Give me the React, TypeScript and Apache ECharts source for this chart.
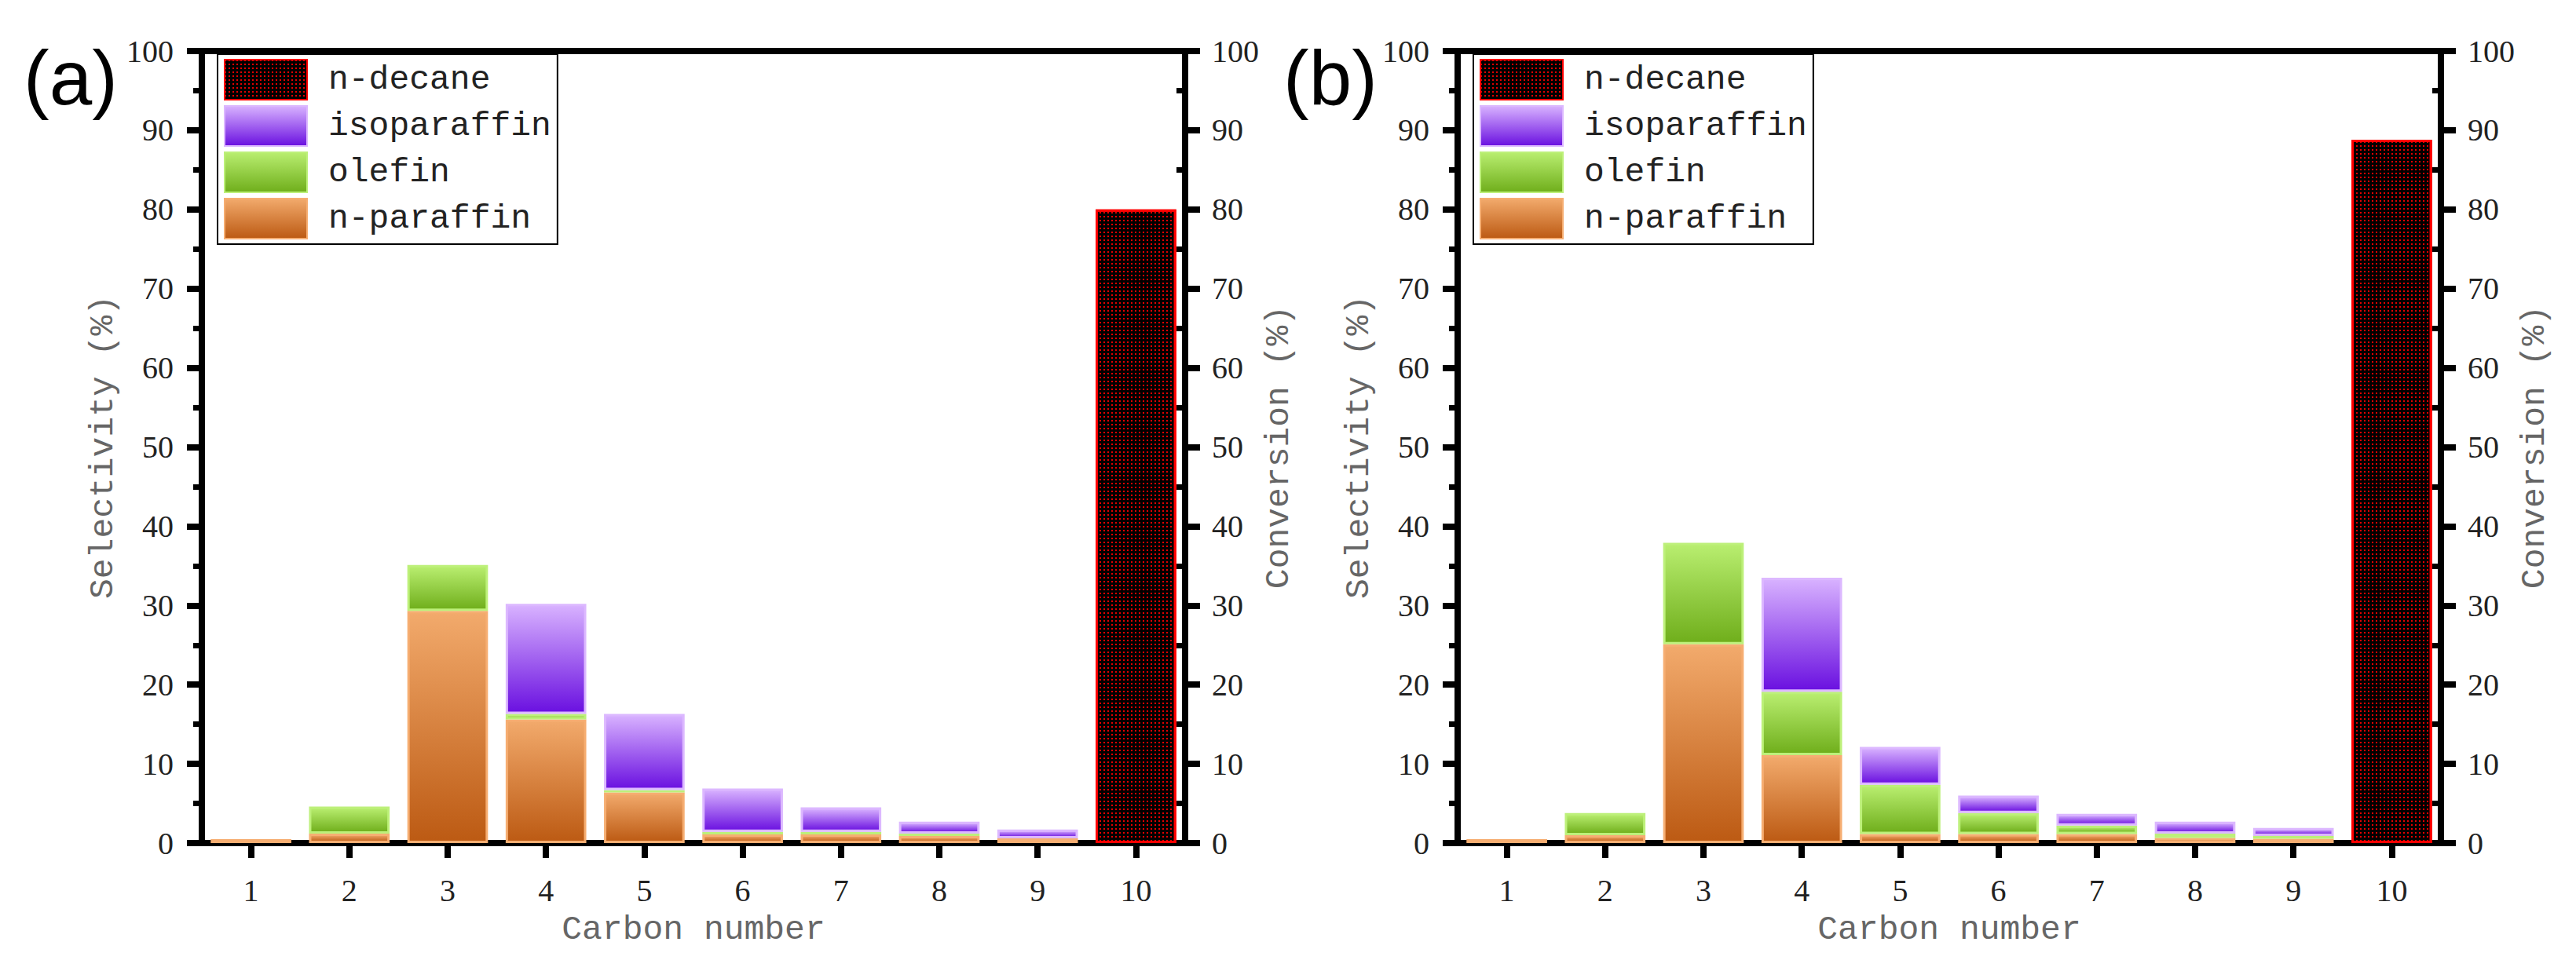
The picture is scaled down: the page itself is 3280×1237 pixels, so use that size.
import React, { useEffect, useRef } from "react";
import * as echarts from "echarts";

const categories = ["1", "2", "3", "4", "5", "6", "7", "8", "9", "10"];
const legendNames = ["n-decane", "isoparaffin", "olefin", "n-paraffin"];
const yTicksMax = 100;
const yInterval = 10;

// Panel (a)
const nParaffinA = [0.5, 1.2, 29.3, 15.6, 6.4, 1.1, 1.1, 0.9, 0.6, null];
const olefinA = [null, 3.4, 5.8, 0.7, 0.3, 0.3, 0.3, 0.3, null, null];
const isoparaffinA = [null, null, null, 13.9, 9.6, 5.5, 3.1, 1.5, 1.1, null];
const conversionA = [null, null, null, null, null, null, null, null, null, 80];

// Panel (b)
const nParaffinB = [0.5, 1.0, 25.1, 11.1, 1.15, 1.15, 1.15, 0.65, 0.55, null];
const olefinB = [null, 2.8, 12.8, 8.0, 6.2, 2.65, 1.05, 0.55, 0.35, null];
const isoparaffinB = [null, null, null, 14.4, 4.8, 2.2, 1.5, 1.5, 1.0, null];
const conversionB = [null, null, null, null, null, null, null, null, null, 88.8];

const panelLabels = ["(a)", "(b)"];

const SERIF = "'Liberation Serif', 'DejaVu Serif', serif";
const MONO = "'Liberation Mono', 'DejaVu Sans Mono', monospace";
const GRID_LEFT = [257, 1856];
const GRID_TOP = 65;
const GRID_W = 1252;
const GRID_H = 1009;

function grad(top: string, bottom: string) {
  return new echarts.graphic.LinearGradient(0, 0, 0, 1, [
    { offset: 0, color: top },
    { offset: 1, color: bottom },
  ]);
}

function buildOption() {
  const grids: any[] = [];
  const xAxes: any[] = [];
  const yAxes: any[] = [];
  const series: any[] = [];
  const legends: any[] = [];
  const graphics: any[] = [];

  const panels = [
    { nP: nParaffinA, ol: olefinA, iso: isoparaffinA, conv: conversionA },
    { nP: nParaffinB, ol: olefinB, iso: isoparaffinB, conv: conversionB },
  ];

  panels.forEach((pd, p) => {
    const left = GRID_LEFT[p];
    grids.push({ left, top: GRID_TOP, width: GRID_W, height: GRID_H, containLabel: false });

    const labelStyle = { fontFamily: SERIF, fontSize: 40, color: "#222" };
    const nameStyle = { fontFamily: MONO, fontSize: 43, color: "#666" };

    xAxes.push({
      type: "category",
      gridIndex: p,
      position: "bottom",
      data: categories,
      boundaryGap: true,
      axisLine: { show: true, onZero: false, lineStyle: { color: "#000", width: 8 } },
      axisTick: { show: true, alignWithLabel: true, length: 19, lineStyle: { color: "#000", width: 8 } },
      axisLabel: { margin: 40, ...labelStyle },
      splitLine: { show: false },
      name: "Carbon number",
      nameLocation: "middle",
      nameGap: 89,
      nameTextStyle: nameStyle,
    });
    xAxes.push({
      type: "category",
      gridIndex: p,
      position: "top",
      data: categories,
      axisLine: { show: true, onZero: false, lineStyle: { color: "#000", width: 8 } },
      axisTick: { show: false },
      axisLabel: { show: false },
      splitLine: { show: false },
    });

    yAxes.push({
      type: "value",
      gridIndex: p,
      position: "left",
      min: 0,
      max: yTicksMax,
      interval: yInterval,
      axisLine: { show: true, onZero: false, lineStyle: { color: "#000", width: 8 } },
      axisTick: { show: true, inside: false, length: 19, lineStyle: { color: "#000", width: 8 } },
      minorTick: { show: true, splitNumber: 2, length: 11, lineStyle: { color: "#000", width: 7 } },
      splitLine: { show: false },
      axisLabel: { margin: 36, ...labelStyle },
      name: "Selectivity (%)",
      nameLocation: "middle",
      nameRotate: 90,
      nameGap: 104,
      nameTextStyle: nameStyle,
    });
    yAxes.push({
      type: "value",
      gridIndex: p,
      position: "right",
      min: 0,
      max: yTicksMax,
      interval: yInterval,
      axisLine: { show: true, onZero: false, lineStyle: { color: "#000", width: 8 } },
      axisTick: { show: true, inside: false, length: 19, lineStyle: { color: "#000", width: 8 } },
      splitLine: { show: false },
      axisLabel: { margin: 34, ...labelStyle },
      name: "Conversion (%)",
      nameLocation: "middle",
      nameRotate: 90,
      nameGap: 80,
      nameTextStyle: nameStyle,
    });
    yAxes.push({
      type: "value",
      gridIndex: p,
      position: "right",
      min: 0,
      max: yTicksMax,
      interval: yInterval,
      axisLine: { show: false, onZero: false },
      axisTick: { show: false, inside: true },
      minorTick: { show: true, splitNumber: 2, length: 11, lineStyle: { color: "#000", width: 7 } },
      splitLine: { show: false },
      axisLabel: { show: false },
    });

    const xi = 2 * p;
    const yi = 3 * p;
    series.push({
      name: "n-paraffin",
      type: "bar",
      xAxisIndex: xi,
      yAxisIndex: yi,
      stack: "sel" + p,
      barWidth: "82%",
      data: pd.nP,
      itemStyle: { color: grad("#f2aa6c", "#bc5a13"), borderColor: "#f6ae72", borderWidth: 3 },
    });
    series.push({
      name: "olefin",
      type: "bar",
      xAxisIndex: xi,
      yAxisIndex: yi,
      stack: "sel" + p,
      barWidth: "82%",
      data: pd.ol,
      itemStyle: { color: grad("#b9ee70", "#6fae1b"), borderColor: "#bdf07a", borderWidth: 3 },
    });
    series.push({
      name: "isoparaffin",
      type: "bar",
      xAxisIndex: xi,
      yAxisIndex: yi,
      stack: "sel" + p,
      barWidth: "82%",
      data: pd.iso,
      itemStyle: { color: grad("#d8b2ff", "#6a10e0"), borderColor: "#dcb8ff", borderWidth: 3 },
    });
    series.push({
      name: "n-decane",
      type: "bar",
      xAxisIndex: xi,
      yAxisIndex: yi + 1,
      barWidth: "82%",
      barGap: "-100%",
      data: pd.conv,
      itemStyle: {
        color: "#000",
        borderColor: "#ff0000",
        borderWidth: 3,
        decal: {
          symbol: "rect",
          symbolSize: 1,
          color: "#e00000",
          dashArrayX: [[2, 3]],
          dashArrayY: [2, 3],
          rotation: 0,
        },
      },
    });

    legends.push({
      orient: "vertical",
      left: 277 + (left - GRID_LEFT[0]),
      top: 69,
      data: legendNames,
      icon: "rect",
      itemWidth: 105,
      itemHeight: 51,
      itemGap: 6,
      padding: [6, 8, 6, 8],
      borderColor: "#000",
      borderWidth: 2,
      backgroundColor: "#fff",
      selectedMode: false,
      textStyle: { fontFamily: MONO, fontSize: 43, color: "#222", padding: [0, 0, 0, 22] },
    });

    graphics.push({
      type: "text",
      left: p === 0 ? 30 : 1634,
      top: 50,
      style: {
        text: panelLabels[p],
        fontFamily: "'Liberation Sans', Arial, sans-serif",
        fontSize: 98,
        fill: "#000",
      },
    });
  });

  return {
    animation: false,
    backgroundColor: "#fff",
    grid: grids,
    xAxis: xAxes,
    yAxis: yAxes,
    series,
    legend: legends,
    graphic: graphics,
  };
}

export default function App() {
  const ref = useRef<HTMLDivElement>(null);
  useEffect(() => {
    if (!ref.current) return;
    const chart = echarts.init(ref.current, null, { renderer: "svg" });
    chart.setOption(buildOption() as any);
    return () => chart.dispose();
  }, []);
  return (
    <div
      ref={ref}
      style={{ position: "absolute", left: 0, top: 0, width: 3280, height: 1237, background: "#fff" }}
    />
  );
}
